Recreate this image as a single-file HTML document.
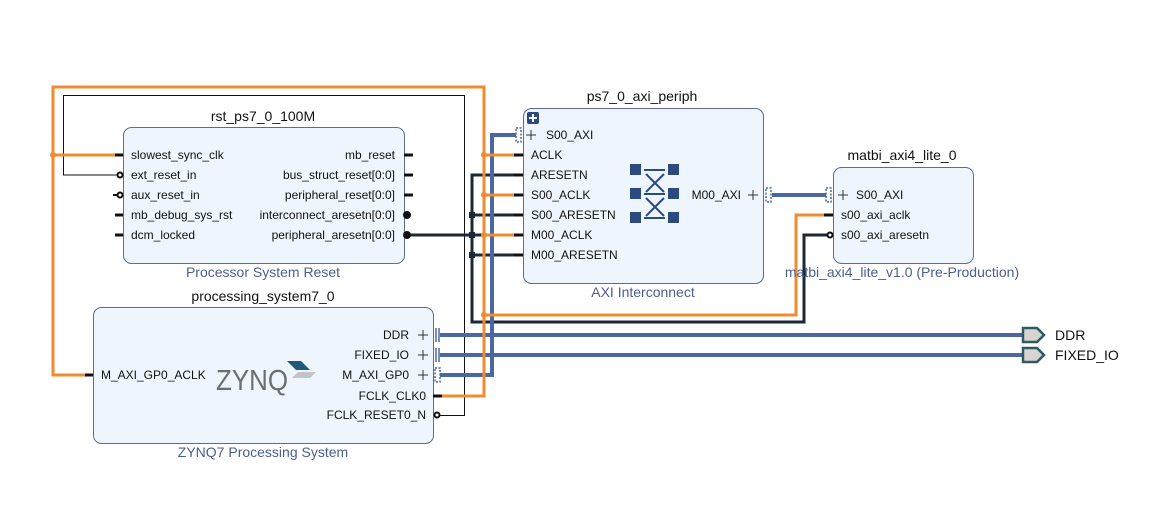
<!DOCTYPE html>
<html><head><meta charset="utf-8"><style>
html,body{margin:0;padding:0;background:#fff}
svg text{font-family:"Liberation Sans",sans-serif}
.p{font-size:12px;fill:#111}
.t{font-size:14px;fill:#111}
.s{font-size:14px;fill:#4a5f8f}
</style></head><body>
<svg width="1176" height="520" viewBox="0 0 1176 520" xmlns="http://www.w3.org/2000/svg">
<rect width="1176" height="520" fill="#fff"/>
<g fill="#eef5fc" stroke="#5a6e90" stroke-width="1">
<rect x="123.5" y="127.5" width="281" height="136" rx="8"/>
<rect x="523.5" y="108.5" width="240" height="175" rx="8"/>
<rect x="833.5" y="167.5" width="140" height="96" rx="8"/>
<rect x="93.5" y="307.5" width="340" height="136" rx="8"/>
</g>
<g fill="none" stroke="#111" stroke-width="1">
<polyline points="118,175 63.5,175 63.5,95.5 464.5,95.5 464.5,415.5 437,415.5"/>
</g>
<g fill="none" stroke="#1b2838" stroke-width="3">
<polyline points="410,235 516,235"/>
<polyline points="516,175 472,175 472,322 804,322 804,235 830,235"/>
<line x1="472" y1="215" x2="516" y2="215"/>
<line x1="472" y1="255" x2="516" y2="255"/>
</g>
<g fill="#1b2838"><rect x="469" y="212" width="6" height="6"/><rect x="469" y="232" width="6" height="6"/><rect x="469" y="252" width="6" height="6"/></g>
<g fill="none" stroke="#4a67a0" stroke-width="4">
<polyline points="516,135 492,135 492,375 440,375"/>
<line x1="772" y1="195" x2="826" y2="195"/>
<line x1="440" y1="335" x2="1022" y2="335"/>
<line x1="440" y1="355" x2="1022" y2="355"/>
</g>
<g fill="none" stroke="#f28b30" stroke-width="3">
<polyline points="88,375 53,375 53,87 484,87 484,396 440,396"/>
<line x1="53" y1="155" x2="115" y2="155"/>
<line x1="484" y1="155" x2="516" y2="155"/>
<line x1="484" y1="195" x2="516" y2="195"/>
<line x1="484" y1="235" x2="516" y2="235"/>
<polyline points="484,315 796,315 796,215 830,215"/>
</g>
<g fill="#f28b30"><circle cx="53" cy="155" r="3"/><circle cx="484" cy="155" r="3"/><circle cx="484" cy="195" r="3"/><circle cx="484" cy="235" r="3"/><circle cx="484" cy="315" r="3"/></g>
<g stroke="#111" stroke-width="3">
<line x1="115" y1="155" x2="123" y2="155"/>
<line x1="115" y1="215" x2="123" y2="215"/>
<line x1="115" y1="235" x2="123" y2="235"/>
<line x1="404" y1="155" x2="413" y2="155"/>
<line x1="404" y1="175" x2="413" y2="175"/>
<line x1="404" y1="195" x2="413" y2="195"/>
<line x1="514" y1="155" x2="523" y2="155"/>
<line x1="514" y1="175" x2="523" y2="175"/>
<line x1="514" y1="195" x2="523" y2="195"/>
<line x1="514" y1="215" x2="523" y2="215"/>
<line x1="514" y1="235" x2="523" y2="235"/>
<line x1="514" y1="255" x2="523" y2="255"/>
<line x1="824" y1="215" x2="833" y2="215"/>
<line x1="85" y1="375" x2="93" y2="375"/>
<line x1="433" y1="396" x2="442" y2="396"/>
</g>
<g fill="#fff" stroke="#111" stroke-width="2">
<circle cx="120" cy="175" r="2.5"/><circle cx="120" cy="195" r="2.5"/><circle cx="830" cy="235" r="2.5"/><circle cx="437" cy="415" r="2.5"/>
</g>
<line x1="113" y1="195" x2="117" y2="195" stroke="#111" stroke-width="2"/>
<g fill="#111"><circle cx="407" cy="215" r="4"/><circle cx="407" cy="235" r="4"/></g>
<g fill="none" stroke="#4a67a0" stroke-width="1.5" stroke-dasharray="2,1.5">
<rect x="516" y="128" width="5" height="14"/><rect x="766" y="188" width="5" height="14"/><rect x="826" y="188" width="5" height="14"/><rect x="435" y="368" width="5" height="14"/>
</g>
<g stroke="#4a67a0" stroke-width="1.5"><line x1="436" y1="328" x2="436" y2="342"/><line x1="439" y1="328" x2="439" y2="342"/><line x1="436" y1="348" x2="436" y2="362"/><line x1="439" y1="348" x2="439" y2="362"/></g>
<g stroke="#333" stroke-width="1"><path d="M526 135h10M531 130v10"/><path d="M748 195h10M753 190v10"/><path d="M838 195h10M843 190v10"/><path d="M418 335h10M423 330v10"/><path d="M418 355h10M423 350v10"/><path d="M418 375h10M423 370v10"/></g>
<rect x="527" y="112" width="12" height="12" rx="2" fill="#2a4a80"/><path d="M533 114v8M529 118h8" stroke="#fff" stroke-width="2"/>
<g fill="#2a4a80"><rect x="630" y="164" width="11" height="11"/><rect x="668" y="164" width="11" height="11"/><rect x="630" y="188" width="11" height="11"/><rect x="668" y="188" width="11" height="11"/><rect x="630" y="212" width="11" height="11"/><rect x="668" y="212" width="11" height="11"/></g>
<g stroke="#2a4a80" stroke-width="2"><path d="M644 170h21M644 194h21M644 218h21M646 174l18 18M664 174l-18 18M646 198l18 18M664 198l-18 18"/></g>
<g fill="#d8d4cf" stroke="#2e5a66" stroke-width="2.5"><path d="M1023 328h14l7 7-7 7h-14z"/><path d="M1023 348h14l7 7-7 7h-14z"/></g>
<text x="1055" y="340" class="t">DDR</text><text x="1055" y="360" class="t">FIXED_IO</text>
<text x="216" y="390" style="font-size:29px;fill:#6d6e71" textLength="72" lengthAdjust="spacingAndGlyphs">ZYNQ</text>
<path d="M287 361h14l9 9h-14z" fill="#1e5a78"/><path d="M298 372h18l-6 6h-18z" fill="#c0c4c8"/>
<text x="263" y="121" class="t" text-anchor="middle">rst_ps7_0_100M</text>
<text x="263" y="277" class="s" text-anchor="middle">Processor System Reset</text>
<text x="642" y="101" class="t" text-anchor="middle">ps7_0_axi_periph</text>
<text x="643" y="297" class="s" text-anchor="middle">AXI Interconnect</text>
<text x="902" y="160" class="t" text-anchor="middle">matbi_axi4_lite_0</text>
<text x="902" y="277" class="s" text-anchor="middle">matbi_axi4_lite_v1.0 (Pre-Production)</text>
<text x="263" y="301" class="t" text-anchor="middle">processing_system7_0</text>
<text x="263" y="457" class="s" text-anchor="middle">ZYNQ7 Processing System</text>
<g class="p">
<text x="131" y="159">slowest_sync_clk</text><text x="131" y="179">ext_reset_in</text><text x="131" y="199">aux_reset_in</text><text x="131" y="219">mb_debug_sys_rst</text><text x="131" y="239">dcm_locked</text>
</g>
<g class="p" text-anchor="end">
<text x="395" y="159">mb_reset</text><text x="395" y="179">bus_struct_reset[0:0]</text><text x="395" y="199">peripheral_reset[0:0]</text><text x="395" y="219">interconnect_aresetn[0:0]</text><text x="395" y="239">peripheral_aresetn[0:0]</text>
<text x="741" y="199">M00_AXI</text>
<text x="409" y="339">DDR</text><text x="409" y="359">FIXED_IO</text><text x="409" y="379">M_AXI_GP0</text><text x="426" y="400">FCLK_CLK0</text><text x="426" y="419">FCLK_RESET0_N</text>
</g>
<g class="p">
<text x="546" y="139">S00_AXI</text><text x="531" y="159">ACLK</text><text x="531" y="179">ARESETN</text><text x="531" y="199">S00_ACLK</text><text x="531" y="219">S00_ARESETN</text><text x="531" y="239">M00_ACLK</text><text x="531" y="259">M00_ARESETN</text>
<text x="856" y="199">S00_AXI</text><text x="841" y="219">s00_axi_aclk</text><text x="841" y="239">s00_axi_aresetn</text>
<text x="101" y="379">M_AXI_GP0_ACLK</text>
</g>
</svg>
</body></html>
